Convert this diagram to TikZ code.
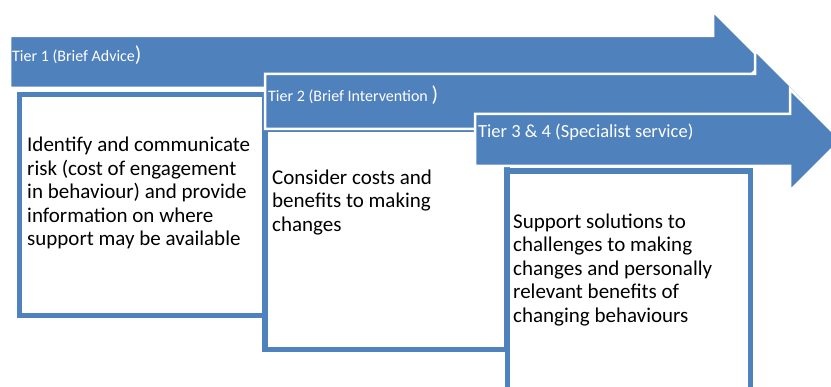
\documentclass[tikz,border=0pt]{standalone}
\usepackage{fontspec}
\setmainfont{Carlito}
\definecolor{tierblue}{HTML}{4F81BD}
\begin{document}
\begin{tikzpicture}[x=1pt,y=-1pt,
  arrowshape/.style={fill=tierblue,draw=white,line width=2.5pt,line join=miter},
  stepbox/.style={draw=tierblue,fill=white,line width=5.8pt},
  tierlabel/.style={text=white,inner sep=0pt,anchor=base west,font=\fontsize{16}{19}\selectfont},
  bigparen/.style={},
  boxtext/.style={text=black,inner sep=0pt,anchor=north west,align=left,font=\fontsize{21}{23.5}\selectfont}]
\useasboundingbox (0,0) rectangle (831,387);
\clip (0,0) rectangle (831,387);
% Arrow 1
\path[arrowshape] (10,36) -- (713,36) -- (713,11) -- (764,62) -- (713,113) -- (713,88) -- (10,88) -- cycle;
% Box 1
\draw[stepbox] (19.5,94.5) rectangle (264.5,315.5);
% Box 2
\draw[stepbox] (265,129) rectangle (507,349.5);
% Arrow 2
\path[arrowshape] (265,74) -- (755,74) -- (755,50) -- (806.5,101.5) -- (755,153) -- (755,129) -- (265,129) -- cycle;
% Arrow 3
\path[arrowshape] (475,114) -- (790,114) -- (790,89) -- (841,140) -- (790,191) -- (790,166) -- (475,166) -- cycle;
% Box 3
\draw[stepbox] (507.5,171) rectangle (750.5,400);
% Labels
\node[tierlabel] (t1) at (12,61.5) {Tier 1 (Brief Advice{\fontsize{21.5}{24}\selectfont)}};
\node[tierlabel] (t2) at (268,101.5) {Tier 2 (Brief Intervention {\fontsize{21.5}{24}\selectfont)}};
\node[tierlabel,font=\fontsize{18.5}{22}\selectfont] (t3) at (478,138) {Tier 3 \& 4 (Specialist service)};
% Box texts
\node[boxtext] (b1) at (27,135.05) {\strut Identify and communicate\\risk (cost of engagement\\in behaviour) and provide\\information on where\\support may be available};
\node[boxtext] (b2) at (272,167.55) {\strut Consider costs and\\benefits to making\\changes};
\node[boxtext] (b3) at (513,211.55) {\strut Support solutions to\\challenges to making\\changes and personally\\relevant benefits of\\changing behaviours};
\end{tikzpicture}
\end{document}
